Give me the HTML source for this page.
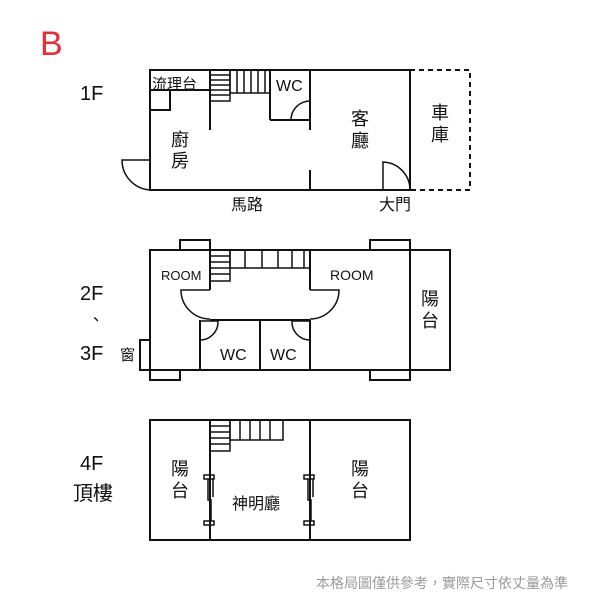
<!DOCTYPE html>
<html><head><meta charset="utf-8"><style>
html,body{margin:0;padding:0;background:#fff;}
svg{display:block}
text{font-family:"Liberation Sans","Noto Sans CJK TC",sans-serif;fill:#111}
</style></head><body>
<svg width="600" height="600" viewBox="0 0 600 600" xmlns="http://www.w3.org/2000/svg">
<rect width="600" height="600" fill="#fff"/>
<text x="40" y="55" font-size="34" style="fill:#e0303a">B</text>

<g stroke="#111" stroke-width="2" fill="none">
<rect x="150" y="70" width="260" height="120"/>
<rect x="410" y="70" width="60" height="120" stroke-dasharray="5,4"/>
<polyline points="150,90 210,90"/>
<polyline points="170,90 170,110 150,110"/>
<line x1="210" y1="70" x2="210" y2="130"/>
<line x1="270" y1="70" x2="270" y2="120"/>
<line x1="270" y1="120" x2="310" y2="120"/>
<line x1="310" y1="70" x2="310" y2="130"/>
<line x1="310" y1="170" x2="310" y2="190"/>
</g>
<g stroke="#111" stroke-width="1.5" fill="none">
<path d="M291 120 A19 19 0 0 1 310 101"/>
<rect x="210" y="70" width="20" height="31"/>
<line x1="210" y1="75" x2="230" y2="75"/><line x1="210" y1="80" x2="230" y2="80"/><line x1="210" y1="85" x2="230" y2="85"/><line x1="210" y1="90" x2="230" y2="90"/><line x1="210" y1="95" x2="230" y2="95"/>
<rect x="230" y="70" width="40" height="23"/>
<line x1="237" y1="70" x2="237" y2="93"/><line x1="244" y1="70" x2="244" y2="93"/><line x1="251" y1="70" x2="251" y2="93"/><line x1="258" y1="70" x2="258" y2="93"/><line x1="265" y1="70" x2="265" y2="93"/>
<path d="M150 160 L122 160 A30 30 0 0 0 150 190"/>
<path d="M383 190 L383 162 A28 28 0 0 1 410 190"/>
</g>
<text x="152" y="89" font-size="15">流理台</text>
<text x="276" y="91" font-size="16">WC</text>
<text x="171" y="146" font-size="18">廚</text><text x="171" y="167" font-size="18">房</text>
<text x="351" y="125" font-size="18">客</text><text x="351" y="147" font-size="18">廳</text>
<text x="431" y="119" font-size="18">車</text><text x="431" y="141" font-size="18">庫</text>
<text x="231" y="210" font-size="16">馬路</text>
<text x="379" y="210" font-size="16">大門</text>
<text x="80" y="100" font-size="20">1F</text>

<g stroke="#111" stroke-width="2" fill="none">
<rect x="150" y="250" width="260" height="120"/>
<rect x="410" y="250" width="40" height="120"/>
<rect x="180" y="240" width="30" height="10"/>
<rect x="370" y="240" width="40" height="10"/>
<rect x="150" y="370" width="30" height="10"/>
<rect x="370" y="370" width="40" height="10"/>
<rect x="140" y="340" width="10" height="30"/>
<line x1="210" y1="250" x2="210" y2="290"/>
<line x1="210" y1="320" x2="310" y2="320"/>
<line x1="200" y1="320" x2="200" y2="370"/>
<line x1="260" y1="320" x2="260" y2="370"/>
<line x1="310" y1="250" x2="310" y2="290"/>
<line x1="310" y1="320" x2="310" y2="370"/>
</g>
<g stroke="#111" stroke-width="1.5" fill="none">
<rect x="210" y="250" width="20" height="31"/>
<line x1="210" y1="256" x2="230" y2="256"/><line x1="210" y1="262" x2="230" y2="262"/><line x1="210" y1="268" x2="230" y2="268"/><line x1="210" y1="274" x2="230" y2="274"/>
<rect x="230" y="250" width="80" height="18"/>
<line x1="245" y1="250" x2="245" y2="268"/><line x1="262" y1="250" x2="262" y2="268"/><line x1="278" y1="250" x2="278" y2="268"/><line x1="292" y1="250" x2="292" y2="268"/><line x1="304" y1="250" x2="304" y2="268"/>
<path d="M210 290 L181 290 A29 29 0 0 0 210 319"/>
<path d="M310 290 L339 290 A29 29 0 0 1 310 319"/>
<path d="M200 321 L218 321 A18 18 0 0 1 200 340"/>
<path d="M310 321 L292 321 A18 18 0 0 0 310 340"/>
</g>
<text x="161" y="280" font-size="13">ROOM</text>
<text x="330" y="280" font-size="14">ROOM</text>
<text x="220" y="360" font-size="16">WC</text>
<text x="270" y="360" font-size="16">WC</text>
<text x="421" y="305" font-size="18">陽</text><text x="421" y="327" font-size="18">台</text>
<text x="120" y="360" font-size="15">窗</text>
<text x="80" y="300" font-size="20">2F</text>
<text x="88" y="325" font-size="16">、</text>
<text x="80" y="360" font-size="20">3F</text>

<g stroke="#111" stroke-width="2" fill="none">
<rect x="150" y="420" width="260" height="120"/>
<line x1="210" y1="420" x2="210" y2="540"/>
<line x1="310" y1="420" x2="310" y2="540"/>
</g>
<g stroke="#111" stroke-width="1.5" fill="none">
<rect x="210" y="420" width="20" height="31"/>
<line x1="210" y1="426" x2="230" y2="426"/><line x1="210" y1="432" x2="230" y2="432"/><line x1="210" y1="438" x2="230" y2="438"/><line x1="210" y1="444" x2="230" y2="444"/>
<rect x="230" y="420" width="53" height="20"/>
<line x1="240" y1="420" x2="240" y2="440"/><line x1="250" y1="420" x2="250" y2="440"/><line x1="260" y1="420" x2="260" y2="440"/><line x1="270" y1="420" x2="270" y2="440"/>
<rect x="204" y="475" width="10" height="4"/><rect x="204" y="521" width="10" height="4"/>
<polyline points="208,479 208,500 211,500 211,521"/><line x1="213" y1="479" x2="213" y2="497"/>
<rect x="304" y="475" width="10" height="4"/><rect x="304" y="521" width="10" height="4"/>
<polyline points="308,479 308,500 311,500 311,521"/><line x1="313" y1="479" x2="313" y2="497"/>
</g>
<text x="171" y="475" font-size="18">陽</text><text x="171" y="497" font-size="18">台</text>
<text x="351" y="475" font-size="18">陽</text><text x="351" y="497" font-size="18">台</text>
<text x="232" y="509" font-size="16">神明廳</text>
<text x="80" y="470" font-size="20">4F</text>
<text x="73" y="500" font-size="20">頂樓</text>

<text x="316" y="588" font-size="14" style="fill:#999">本格局圖僅供參考，實際尺寸依丈量為準</text>
</svg>
</body></html>
